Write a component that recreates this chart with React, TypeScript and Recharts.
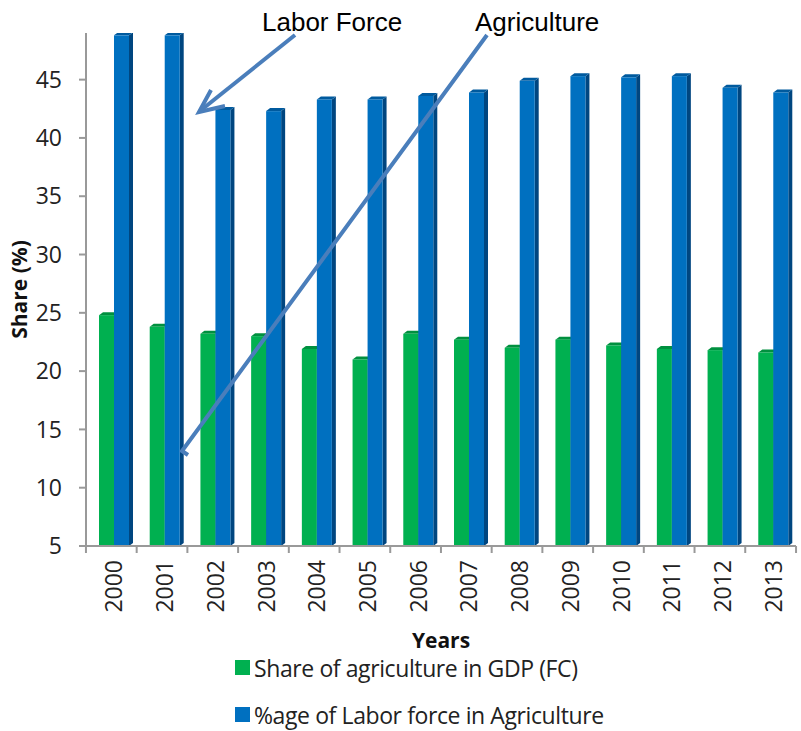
import React from 'react'
import { BarChart, Bar, XAxis, YAxis, Legend } from 'recharts'

const years = ['2000', '2001', '2002', '2003', '2004', '2005', '2006', '2007', '2008', '2009', '2010', '2011', '2012', '2013']
const gdpShare = [24.8, 23.8, 23.2, 23.0, 21.9, 21.0, 23.2, 22.7, 22.0, 22.7, 22.2, 21.9, 21.8, 21.6]
const laborShare = [48.8, 48.8, 42.4, 42.3, 43.3, 43.3, 43.6, 43.9, 44.9, 45.3, 45.2, 45.3, 44.3, 43.9]
const yTicks = [5, 10, 15, 20, 25, 30, 35, 40, 45]

const GREEN = '#00b050'
const BLUE = '#0070c0'
const FONT = '"Open Sans", sans-serif'
const ARROW = '#4a7ebb'

const data = years.map((year, i) => ({ year, gdp: gdpShare[i], labor: laborShare[i] }))

if (typeof document !== 'undefined') document.body.style.margin = '0'

// fake 3d column: front face + darker side + top
const make3d = (fill: string, side: string, top: string) => (props: any) => {
  const { x, y, width, height } = props
  if (height == null || height <= 0) return <g />
  const bx = x + 3
  const d = 4
  const dy = 3
  return (
    <g>
      <polygon
        points={`${bx + width},${y} ${bx + width + d},${y - dy} ${bx + width + d},${y + height - dy} ${bx + width},${y + height}`}
        fill={side}
      />
      <polygon points={`${bx},${y} ${bx + d},${y - dy} ${bx + width + d},${y - dy} ${bx + width},${y}`} fill={top} />
      <rect x={bx} y={y} width={width} height={height} fill={fill} />
    </g>
  )
}

const YearTick = (props: any) => {
  const { x, y, payload, index } = props
  const half = 25.4
  return (
    <g>
      <line x1={x - half} y1={y - 8} x2={x - half} y2={y - 1} stroke="#999" strokeWidth={2} />
      {index === years.length - 1 && (
        <line x1={x + half} y1={y - 8} x2={x + half} y2={y - 1} stroke="#999" strokeWidth={2} />
      )}
      <text
        x={x + 2}
        y={y + 6}
        transform={`rotate(-90, ${x + 2}, ${y + 6})`}
        textAnchor="end"
        dominantBaseline="central"
        fontSize={23}
        fontFamily={FONT}
        fill="#222"
      >
        {payload.value}
      </text>
    </g>
  )
}

const LegendBox = () => (
  <div style={{ fontFamily: FONT, fontSize: 23, color: '#222' }}>
    {[
      { c: GREEN, t: 'Share of agriculture in GDP (FC)' },
      { c: BLUE, t: '%age of Labor force in Agriculture' },
    ].map((it) => (
      <div key={it.t} style={{ display: 'flex', alignItems: 'center', height: 47, lineHeight: '30px' }}>
        <span style={{ width: 15, height: 15, background: it.c, marginRight: 4 }} />
        <span style={{ letterSpacing: -0.4 }}>{it.t}</span>
      </div>
    ))}
  </div>
)

const App = () => {
  return (
    <div style={{ position: 'relative', width: 801, height: 731, background: '#fff' }}>
      <BarChart
        width={801}
        height={731}
        data={data}
        margin={{ top: 33, right: 5, left: 0, bottom: 0 }}
        barCategoryGap={0}
        barGap={0}
      >
        <XAxis
          dataKey="year"
          height={185}
          interval={0}
          tickLine={false}
          axisLine={{ stroke: '#999', strokeWidth: 2 }}
          tick={<YearTick />}
          label={{
            content: (p: any) => (
              <text
                x={p.viewBox.x + p.viewBox.width / 2}
                y={p.viewBox.y + 94}
                textAnchor="middle"
                dominantBaseline="central"
                fontFamily={FONT}
                fontWeight="bold"
                fontSize={21}
                fill="#111"
              >
                Years
              </text>
            ),
          }}
        />
        <YAxis
          width={86}
          domain={[5, 49]}
          ticks={yTicks}
          interval={0}
          allowDataOverflow
          tickSize={7}
          tickMargin={17}
          axisLine={{ stroke: '#999', strokeWidth: 2 }}
          tickLine={{ stroke: '#999', strokeWidth: 2 }}
          tick={{ fill: '#222', fontSize: 23, fontFamily: FONT }}
          label={{
            content: (p: any) => (
              <text
                x={19}
                y={p.viewBox.y + p.viewBox.height / 2}
                transform={`rotate(-90, 19, ${p.viewBox.y + p.viewBox.height / 2})`}
                textAnchor="middle"
                dominantBaseline="central"
                fontFamily={FONT}
                fontWeight="bold"
                fontSize={21}
                fill="#111"
              >
                Share (%)
              </text>
            ),
          }}
        />
        <Legend
          layout="vertical"
          verticalAlign="middle"
          align="center"
          content={<LegendBox />}
          wrapperStyle={{ top: 644, left: 235, width: 460 }}
        />
        <Bar
          dataKey="gdp"
          name="Share of agriculture in GDP (FC)"
          barSize={15}
          fill={GREEN}
          shape={make3d(GREEN, '#007a38', '#00903f')}
          isAnimationActive={false}
        />
        <Bar
          dataKey="labor"
          name="%age of Labor force in Agriculture"
          barSize={15}
          fill={BLUE}
          shape={make3d(BLUE, '#004680', '#005a9e')}
          isAnimationActive={false}
        />
      </BarChart>
      <svg width={801} height={731} style={{ position: 'absolute', left: 0, top: 0, pointerEvents: 'none' }}>
        <text x={262} y={31} fontFamily='"Liberation Sans", Arial, sans-serif' fontSize={26} fill="#000">
          Labor Force
        </text>
        <text x={475} y={31} fontFamily='"Liberation Sans", Arial, sans-serif' fontSize={26} fill="#000">
          Agriculture
        </text>
        <line x1={295} y1={35} x2={200} y2={111} stroke={ARROW} strokeWidth={4} />
        <polyline points="211,90 199,112 225,106" fill="none" stroke={ARROW} strokeWidth={4} strokeLinejoin="miter" />
        <polyline points="487,35 182,451 188,455" fill="none" stroke={ARROW} strokeWidth={4} />
      </svg>
    </div>
  )
}

export default App
